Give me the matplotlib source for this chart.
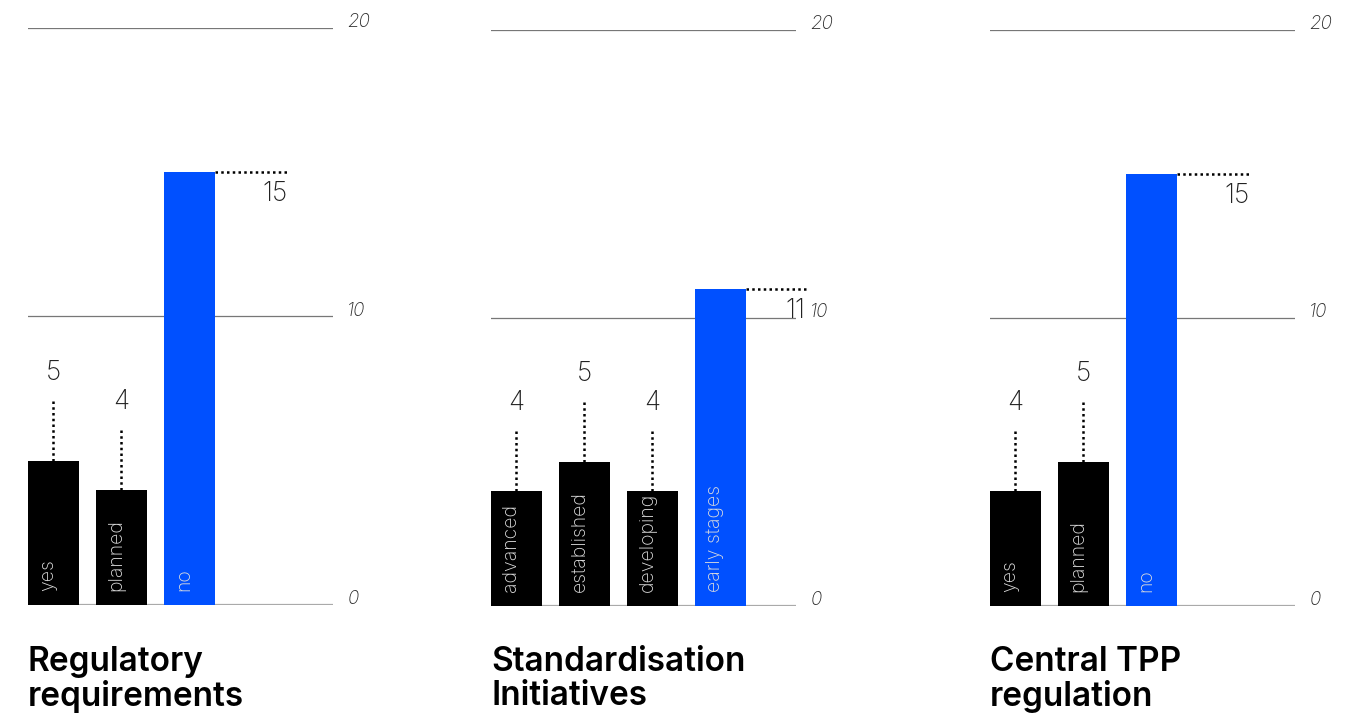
import matplotlib.pyplot as plt
from matplotlib import font_manager

# survey answers per panel
titles = ['Regulatory\nrequirements', 'Standardisation\nInitiatives', 'Central TPP\nregulation']
cats_reg = ['yes', 'planned', 'no']
vals_reg = [5, 4, 15]
cats_std = ['advanced', 'established', 'developing', 'early stages']
vals_std = [4, 5, 4, 11]
cats_tpp = ['yes', 'planned', 'no']
vals_tpp = [4, 5, 15]
ticks = [0, 10, 20]

BLUE = '#0050ff'
names = {f.name for f in font_manager.fontManager.ttflist}
FONT = 'Inter' if 'Inter' in names else 'Lato'
plt.rcParams['font.family'] = [FONT, 'DejaVu Sans']

fig = plt.figure(figsize=(13.61, 7.16), dpi=100)

# left edge, y of 0 and of 20 (pixels), title, categories, values, length of the top marker
panels = [
    (28, 605, 28, titles[0], cats_reg, vals_reg, 73),
    (491, 606, 30, titles[1], cats_std, vals_std, 60),
    (990, 606, 30, titles[2], cats_tpp, vals_tpp, 73),
]
W, H = 1361, 716
slot = 68.0
width = 305
dots = (0, (1, 1.3))

for left, y0, y20, title, cats, vals, mlen in panels:
    ax = fig.add_axes([left / W, 1 - y0 / H, width / W, (y0 - y20) / H])
    ax.set_xlim(0, width / slot)
    ax.set_ylim(0, 20)
    ax.axis('off')

    for t in ticks:
        if t == 0:
            ax.axhline(t, color='#aaaaaa', lw=1.6, zorder=0)
        else:
            ax.axhline(t, color='#777777', lw=0.9, zorder=0)
        ax.text(1.045, t + 0.2, str(t), transform=ax.get_yaxis_transform(),
                fontsize=13.5, style='italic', fontweight='light', color='#2a2a2a',
                ha='left', va='center')

    n = len(vals)
    for i, (c, v) in enumerate(zip(cats, vals)):
        last = i == n - 1
        col = BLUE if last else 'black'
        ax.bar(i, v, width=0.745, align='edge', color=col, zorder=2)
        ax.text(i + 0.3, 0.5, c, rotation=90, ha='center', va='bottom',
                fontsize=14, fontweight='light', color='#dddddd', zorder=3)
        if last:
            x1 = i + 0.745 + mlen / slot
            ax.plot([i + 0.745, x1], [v, v], ls=dots, lw=1.8,
                    color='black', clip_on=False, zorder=3)
            ax.text(x1, v - 0.3, str(v), ha='right', va='top',
                    fontsize=19, fontweight='light', color='#222222')
        else:
            ax.plot([i + 0.37, i + 0.37], [v, v + 2.1], ls=dots, lw=1.8,
                    color='black', zorder=3)
            ax.text(i + 0.37, v + 2.6, str(v), ha='center', va='bottom',
                    fontsize=19, fontweight='light', color='#222222')

    fig.text(left / W, 1 - 646 / H, title, ha='left', va='top',
             fontsize=24, fontweight='semibold', color='black', linespacing=1.08)

fig.savefig('out.png', dpi=100)
